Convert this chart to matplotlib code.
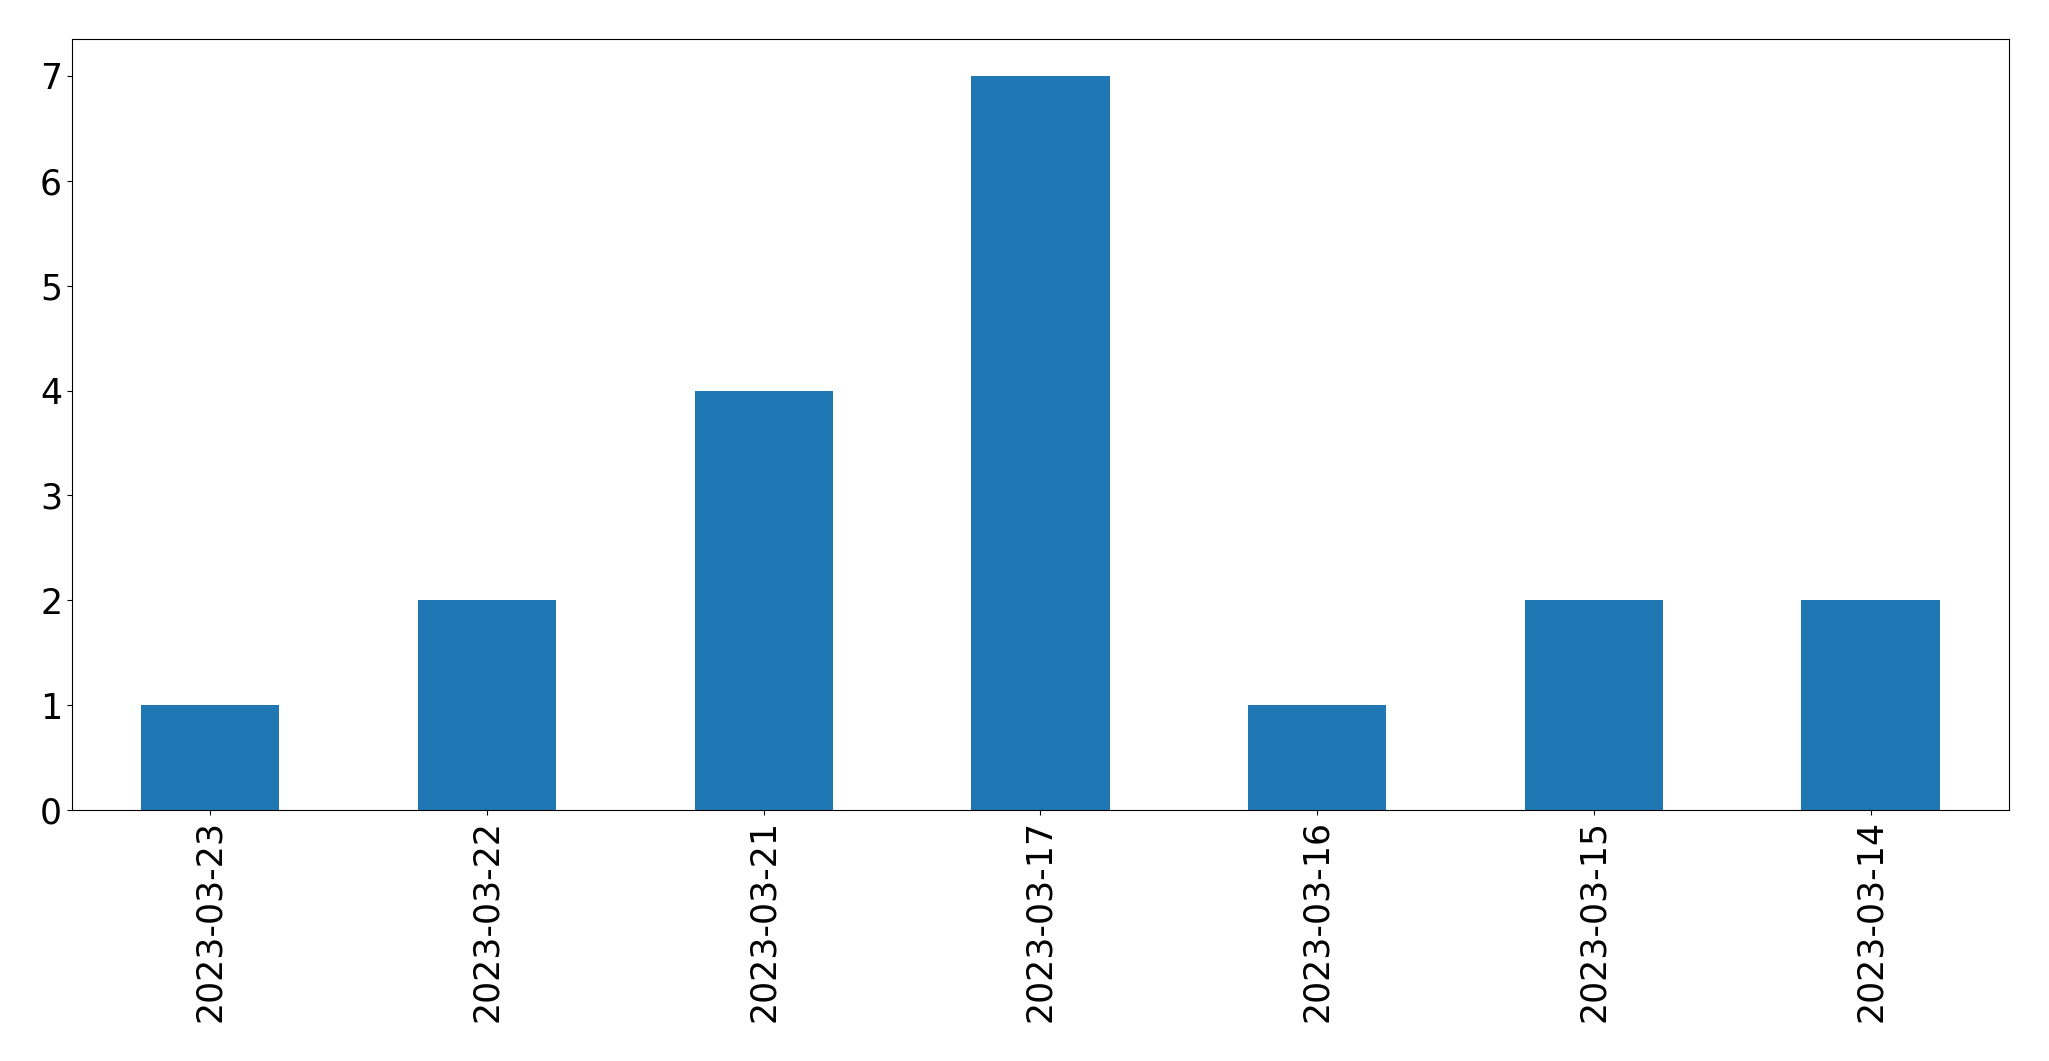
import matplotlib
matplotlib.use("Agg")
import matplotlib.pyplot as plt

# counts per day
dates = ["2023-03-23", "2023-03-22", "2023-03-21", "2023-03-17",
         "2023-03-16", "2023-03-15", "2023-03-14"]
counts = [1, 2, 4, 7, 1, 2, 2]

fig = plt.figure(figsize=(20.49, 10.61), dpi=100)
ax = fig.add_axes([0.0351, 0.2366, 0.9454, 0.7264])

x = range(len(dates))
ax.bar(x, counts, width=0.5, color="#1f77b4")
ax.set_xlim(-0.5, len(dates) - 0.5)
ax.set_ylim(0, 7.35)
ax.set_xticks(list(x))
ax.set_xticklabels(dates, rotation=90)
ax.tick_params(axis="both", labelsize=25)

plt.savefig("out.png")
